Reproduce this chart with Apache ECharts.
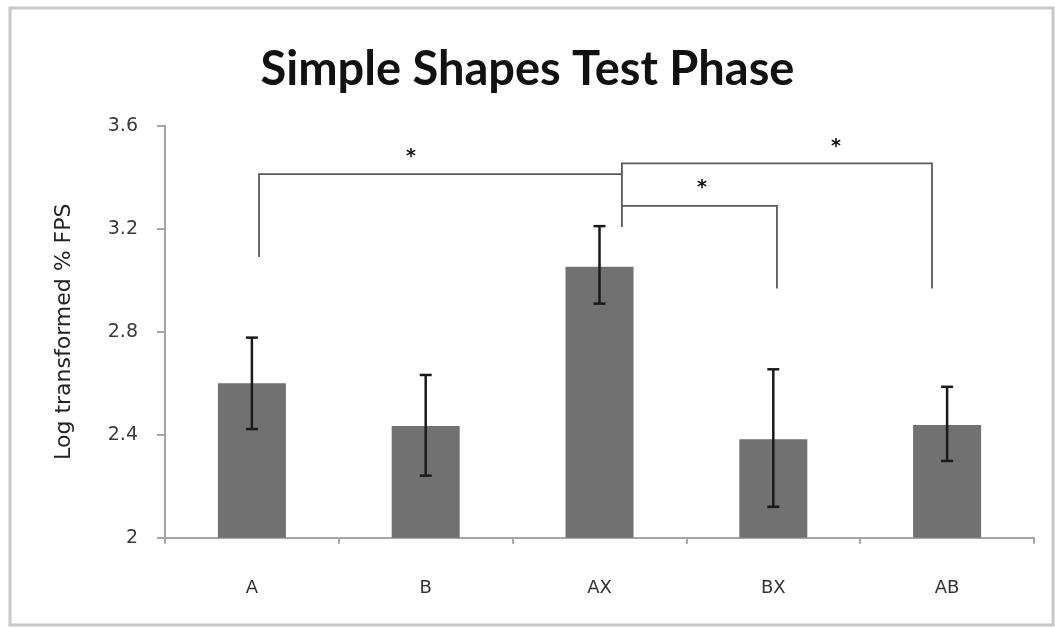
<!DOCTYPE html>
<html>
<head>
<meta charset="utf-8">
<script src="https://cdn.jsdelivr.net/npm/echarts@6/dist/echarts.min.js"></script>
<style>html,body{margin:0;padding:0;background:#fff;}#c{width:1055px;height:628px;}</style>
</head>
<body>
<div id="c"></div>
<script>
const titleText = 'Simple Shapes Test Phase';
const yAxisName = 'Log transformed % FPS';
const categories = ['A', 'B', 'AX', 'BX', 'AB'];
const meanValues = [2.60, 2.434, 3.052, 2.382, 2.438];
const errLow = [2.422, 2.241, 2.909, 2.120, 2.298];
const errHigh = [2.777, 2.632, 3.210, 2.654, 2.586];
const yTicks = [2, 2.4, 2.8, 3.2, 3.6];
// significance brackets, in category-position units (x) and data units (y)
const bracketPaths = [
  [[0.041, 3.090], [0.041, 3.412], [2.129, 3.412]],
  [[2.129, 3.207], [2.129, 3.454], [3.913, 3.454], [3.913, 2.968]],
  [[2.129, 3.289], [3.021, 3.289], [3.021, 2.968]]
];
const starMarks = [[0.915, 3.493], [2.590, 3.372], [3.361, 3.534]];

const chart = echarts.init(document.getElementById('c'), null, {renderer: 'canvas'});
const option = {
  backgroundColor: '#fff',
  animation: false,
  graphic: [
    {type: 'rect', shape: {x: 10, y: 8, width: 1043, height: 617}, style: {fill: 'none', stroke: '#c8c8c8', lineWidth: 3}, z: -1},
    {type: 'text', left: 'center', top: 46, style: {text: titleText, font: 'bold 47px Lato', fill: '#111'}}
  ],
  grid: {left: 165, right: 21, top: 125.7, bottom: 90.3, containLabel: false},
  xAxis: [
    {
      type: 'category', data: categories, boundaryGap: true,
      axisLine: {onZero: false, lineStyle: {color: '#a6a6a6', width: 2}},
      axisTick: {show: true, length: 6, lineStyle: {color: '#a6a6a6', width: 2}},
      axisLabel: {margin: 42, fontSize: 18, color: '#333', fontFamily: 'DejaVu Sans'}
    },
    {type: 'value', min: -0.5, max: 4.5, show: false}
  ],
  yAxis: {
    type: 'value', min: 2, max: 3.6, interval: 0.4,
    name: yAxisName, nameLocation: 'middle', nameGap: 90, nameRotate: 90,
    nameTextStyle: {fontSize: 22, color: '#222', fontFamily: 'DejaVu Sans'},
    axisLine: {show: true, onZero: false, lineStyle: {color: '#a6a6a6', width: 2}},
    axisTick: {show: true, length: 8, lineStyle: {color: '#a6a6a6', width: 2}},
    splitLine: {show: false},
    axisLabel: {margin: 27, fontSize: 19, color: '#3a3a3a', fontFamily: 'DejaVu Sans',
      formatter: v => { const t = yTicks.find(k => Math.abs(k - v) < 1e-9); return t === undefined ? '' : String(t); }}
  },
  series: [
    {
      type: 'bar', data: meanValues, barWidth: 68,
      itemStyle: {color: '#717171'}, z: 2
    },
    {
      type: 'custom', xAxisIndex: 0, z: 4,
      data: categories.map((c, i) => [i, errLow[i], errHigh[i]]),
      renderItem: function (params, api) {
        const x = api.value(0);
        const lo = api.coord([x, api.value(1)]);
        const hi = api.coord([x, api.value(2)]);
        const cap = 6;
        const st = {stroke: '#1a1a1a', lineWidth: 2.5};
        return {type: 'group', children: [
          {type: 'line', shape: {x1: lo[0], y1: lo[1], x2: hi[0], y2: hi[1]}, style: st},
          {type: 'line', shape: {x1: hi[0] - cap, y1: hi[1], x2: hi[0] + cap, y2: hi[1]}, style: st},
          {type: 'line', shape: {x1: lo[0] - cap, y1: lo[1], x2: lo[0] + cap, y2: lo[1]}, style: st}
        ]};
      }
    },
    {
      type: 'custom', xAxisIndex: 1, z: 5,
      data: bracketPaths.map((p, i) => [i]),
      renderItem: function (params, api) {
        const pts = bracketPaths[params.dataIndex].map(p => api.coord(p));
        return {type: 'polyline', shape: {points: pts}, style: {stroke: '#5a5a5a', lineWidth: 1.8, fill: 'none'}};
      }
    },
    {
      type: 'custom', xAxisIndex: 1, z: 5,
      data: starMarks,
      renderItem: function (params, api) {
        const p = api.coord([api.value(0), api.value(1)]);
        return {type: 'text', x: p[0], y: p[1] + 4, style: {text: '*', font: 'bold 19px "DejaVu Sans"', fill: '#111', textAlign: 'center', textVerticalAlign: 'middle'}};
      }
    }
  ]
};
chart.setOption(option);
</script>
</body>
</html>
